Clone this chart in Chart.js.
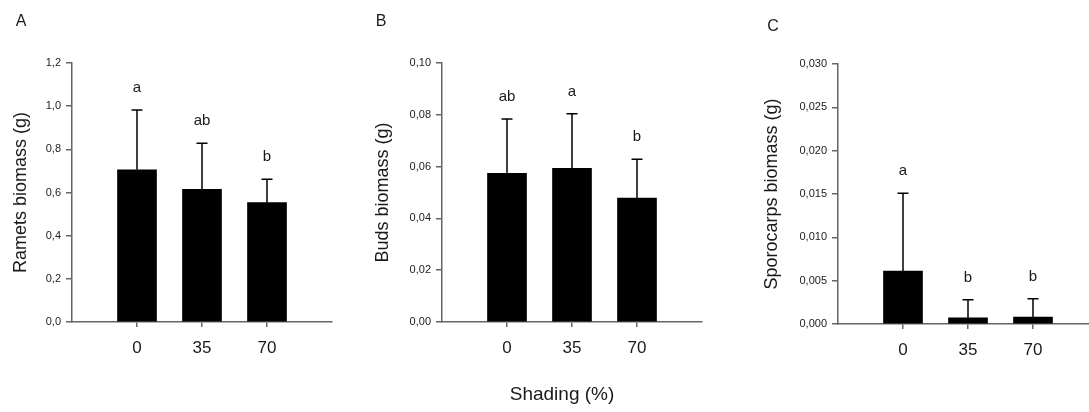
<!doctype html>
<html lang="en">
  <head>
    <title>Biomass by shading</title>
    <style>
      html, body {
        margin: 0;
        padding: 0;
        background: #ffffff;
        overflow: hidden;
      }

      .figure {
        position: relative;
        width: 1089px;
        height: 412px;
        font-family: "Liberation Sans", Arial, sans-serif;
        color: #1a1a1a;
      }

      .panel {
        position: absolute;
        top: 0;
        height: 412px;
      }

      .label {
        position: absolute;
        transform: translate(-50%, -50%);
        white-space: nowrap;
      }

      .panel-letter {
        font-size: 16px;
      }

      .x-title {
        font-size: 19px;
      }
    </style>
  </head>

  <body>
    <div class="figure">
      <div class="panel" style="left: 0px; width: 337px">
        <canvas id="chartA"></canvas>
      </div>
      <div class="panel" style="left: 362px; width: 345px">
        <canvas id="chartB"></canvas>
      </div>
      <div class="panel" style="left: 751px; width: 352px">
        <canvas id="chartC"></canvas>
      </div>

      <div class="label panel-letter" style="left: 21px; top: 21px">A</div>
      <div class="label panel-letter" style="left: 381px; top: 21px">B</div>
      <div class="label panel-letter" style="left: 773px; top: 26px">C</div>
      <div class="label x-title" style="left: 562px; top: 394px">Shading (%)</div>
    </div>

    <script src="https://cdn.jsdelivr.net/npm/chart.js@4.4.1/dist/chart.umd.min.js"></script>
    <script type="text/javascript">
      // Shading levels (%)
      const categories = ["0", "35", "70"];

      // A - ramets biomass (g), mean and upper error
      const rametsMean = [0.705, 0.615, 0.553];
      const rametsErr = [0.277, 0.213, 0.108];
      const rametsLetters = ["a", "ab", "b"];

      // B - buds biomass (g)
      const budsMean = [0.0574, 0.0593, 0.0478];
      const budsErr = [0.021, 0.0211, 0.015];
      const budsLetters = ["ab", "a", "b"];

      // C - sporocarps biomass (g)
      const sporoMean = [0.0061, 0.0007, 0.0008];
      const sporoErr = [0.009, 0.0021, 0.0021];
      const sporoLetters = ["a", "b", "b"];

      const axisColor = "#666666";
      const textColor = "#1a1a1a";
      const fontFamily = "'Liberation Sans', Arial, sans-serif";

      // padded labels so the bars sit at 1/4, 2/4, 3/4 of the x axis
      const xLabels = [""].concat(categories, [""]);

      function padData(values) {
        return [null].concat(values, [null]);
      }

      function commaFormat(decimals) {
        return function (value) {
          return Number(value).toFixed(decimals).replace(".", ",");
        };
      }

      // draws upper error bars and significance letters
      const errorBarPlugin = {
        id: "errorBars",
        afterDatasetsDraw(chart, args, opts) {
          const ctx = chart.ctx;
          const meta = chart.getDatasetMeta(0);
          const yScale = chart.scales.y;
          ctx.save();
          opts.means.forEach((mean, i) => {
            const bar = meta.data[i + 1];
            const x = bar.x;
            const yBar = yScale.getPixelForValue(mean);
            const yTop = yScale.getPixelForValue(mean + opts.errors[i]);
            ctx.strokeStyle = "#000000";
            ctx.lineWidth = 1.5;
            ctx.beginPath();
            ctx.moveTo(x, yBar);
            ctx.lineTo(x, yTop);
            ctx.moveTo(x - 5.5, yTop);
            ctx.lineTo(x + 5.5, yTop);
            ctx.stroke();

            ctx.fillStyle = textColor;
            ctx.font = "15px " + fontFamily;
            ctx.textAlign = "center";
            ctx.textBaseline = "middle";
            ctx.fillText(opts.letters[i], x, yTop - 22);
          });
          ctx.restore();
        },
      };

      function makeChart(id, cfg) {
        const ctx = document.getElementById(id).getContext("2d");
        return new Chart(ctx, {
          type: "bar",
          data: {
            labels: xLabels,
            datasets: [
              {
                data: padData(cfg.means),
                backgroundColor: "#000000",
                borderWidth: 0,
                barThickness: 39,
              },
            ],
          },
          plugins: [errorBarPlugin],
          options: {
            responsive: false,
            animation: false,
            layout: {
              padding: { top: cfg.top, left: 0, right: 5, bottom: 0 },
            },
            plugins: {
              legend: { display: false },
              tooltip: { enabled: false },
              errorBars: {
                means: cfg.means,
                errors: cfg.errors,
                letters: cfg.letters,
              },
            },
            scales: {
              x: {
                type: "category",
                offset: false,
                afterFit: function (scale) {
                  scale.height = 412 - cfg.bottom;
                  scale.paddingLeft = 0;
                  scale.paddingRight = 0;
                },
                border: { display: true, color: axisColor, width: 1.5 },
                grid: {
                  offset: false,
                  drawOnChartArea: false,
                  drawTicks: true,
                  tickLength: 5,
                  lineWidth: 1.5,
                  color: function (c) {
                    return c.index === 0 || c.index === xLabels.length - 1
                      ? "rgba(0,0,0,0)"
                      : axisColor;
                  },
                },
                ticks: {
                  autoSkip: false,
                  maxRotation: 0,
                  padding: 11,
                  color: textColor,
                  font: { family: fontFamily, size: 17 },
                },
              },
              y: {
                min: 0,
                max: cfg.max,
                afterFit: function (scale) {
                  scale.width = cfg.axisWidth;
                },
                border: { display: true, color: axisColor, width: 1.5 },
                grid: {
                  drawOnChartArea: false,
                  drawTicks: true,
                  tickLength: 6,
                  lineWidth: 1.5,
                  color: axisColor,
                },
                ticks: {
                  stepSize: cfg.step,
                  padding: 5,
                  color: "#222222",
                  font: { family: fontFamily, size: 11 },
                  callback: commaFormat(cfg.decimals),
                },
                title: {
                  display: true,
                  text: cfg.title,
                  color: textColor,
                  font: { family: fontFamily, size: 18 },
                  padding: { top: 10, bottom: 0 },
                },
              },
            },
          },
        });
      }

      function sizeCanvas(id, width) {
        const canvas = document.getElementById(id);
        canvas.width = width;
        canvas.height = 412;
        canvas.style.width = width + "px";
        canvas.style.height = "412px";
      }

      sizeCanvas("chartA", 337);
      sizeCanvas("chartB", 345);
      sizeCanvas("chartC", 352);

      makeChart("chartA", {
        means: rametsMean,
        errors: rametsErr,
        letters: rametsLetters,
        max: 1.2,
        step: 0.2,
        decimals: 1,
        title: "Ramets biomass (g)",
        axisWidth: 72,
        top: 63,
        bottom: 322,
      });

      makeChart("chartB", {
        means: budsMean,
        errors: budsErr,
        letters: budsLetters,
        max: 0.1,
        step: 0.02,
        decimals: 2,
        title: "Buds biomass (g)",
        axisWidth: 80,
        top: 63,
        bottom: 322,
      });

      makeChart("chartC", {
        means: sporoMean,
        errors: sporoErr,
        letters: sporoLetters,
        max: 0.03,
        step: 0.005,
        decimals: 3,
        title: "Sporocarps biomass (g)",
        axisWidth: 87,
        top: 64,
        bottom: 324,
      });
    </script>
  </body>
</html>
